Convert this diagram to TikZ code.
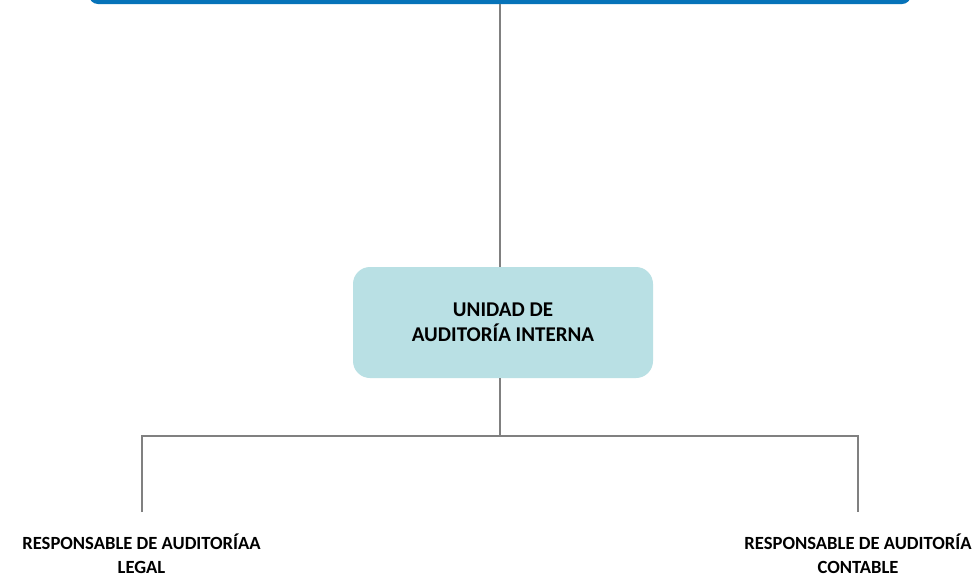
\documentclass[tikz,border=0pt]{standalone}
\usepackage{fontspec}
\setmainfont{Carlito}
\definecolor{topblue}{RGB}{6,115,185}
\definecolor{boxteal}{RGB}{185,224,228}
\definecolor{linegray}{RGB}{128,128,128}
\begin{document}
\begin{tikzpicture}[x=1pt,y=-1pt,
  conn/.style={draw=linegray,line width=1.5pt},
  midbox/.style={fill=boxteal,draw=none,rounded corners=17pt,minimum width=300pt,minimum height=111pt,
    align=center,font=\fontsize{21}{25}\selectfont\bfseries},
  leaf/.style={align=center,font=\fontsize{18.6}{24}\selectfont\bfseries,inner sep=0pt}]
\useasboundingbox (0,0) rectangle (980,579);
\fill[white] (0,0) rectangle (980,579);
\begin{scope}
\clip (0,0) rectangle (980,579);
\node[fill=topblue,rounded corners=9pt,minimum width=822pt,minimum height=40pt,inner sep=0pt] (top) at (500,-16) {};
\end{scope}
\node[midbox] (mid) at (503,322.5) {UNIDAD DE\\AUDITORÍA INTERNA};
\coordinate (ts) at (500,4);
\coordinate (mt) at (500,267);
\coordinate (mb) at (500,378);
\coordinate (j) at (500,436);
\coordinate (jl) at (142,436);
\coordinate (jr) at (858,436);
\coordinate (el) at (142,512);
\coordinate (er) at (858,512);
\draw[conn] (ts) -- (mt);
\draw[conn] (mb) -- (j);
\draw[conn] (el) -- (jl) -- (jr) -- (er);
\node[leaf] (legal) at (141.5,554) {RESPONSABLE DE AUDITORÍAA\\LEGAL};
\node[leaf] (cont) at (858,554) {RESPONSABLE DE AUDITORÍA\\CONTABLE};
\end{tikzpicture}
\end{document}
